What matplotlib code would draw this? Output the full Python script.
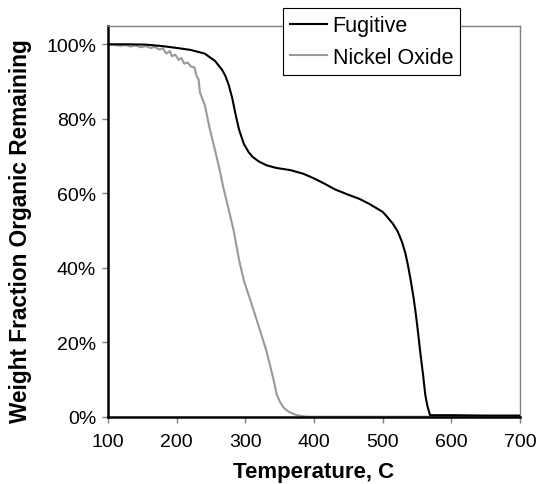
import numpy as np
import matplotlib.pyplot as plt
from matplotlib.ticker import PercentFormatter

plt.rcParams['font.family'] = ['Liberation Sans', 'DejaVu Sans']

# Fugitive (black)
fug_t = [100, 130, 156, 180, 201, 220, 241, 256, 266, 271, 276, 281, 286, 291,
         298, 305, 311, 320, 331, 345, 366, 385, 401, 415, 431, 450, 466, 480,
         491, 500, 506, 515, 522, 528, 533, 537, 541, 545, 548, 551, 555, 559,
         562, 565, 569, 600, 650, 700]
fug_w = [1.0, 1.0, 0.999, 0.995, 0.99, 0.985, 0.975, 0.955, 0.932, 0.915,
         0.89, 0.855, 0.81, 0.77, 0.732, 0.71, 0.697, 0.685, 0.675, 0.668,
         0.662, 0.652, 0.639, 0.626, 0.61, 0.596, 0.585, 0.572, 0.56, 0.55,
         0.538, 0.518, 0.497, 0.47, 0.44, 0.405, 0.365, 0.32, 0.28, 0.235,
         0.17, 0.11, 0.06, 0.03, 0.004, 0.004, 0.003, 0.003]

# Nickel Oxide (grey)
ni_t = [100, 110, 118, 125, 133, 140, 148, 155, 162, 168, 175, 180, 185, 190,
        193, 198, 203, 207, 211, 216, 221, 226, 229, 232, 234, 241, 248, 256,
        263, 268, 276, 283, 291, 298, 311, 326, 331, 336, 341, 346, 351, 356,
        361, 366, 372, 378, 385, 391, 450, 550, 700]
ni_w = [1.0, 0.998, 0.996, 0.998, 0.994, 0.997, 0.992, 0.995, 0.99, 0.993,
        0.986, 0.989, 0.975, 0.982, 0.968, 0.972, 0.958, 0.963, 0.948, 0.951,
        0.94, 0.938, 0.915, 0.905, 0.87, 0.837, 0.775, 0.715, 0.66, 0.615,
        0.555, 0.5, 0.42, 0.365, 0.292, 0.205, 0.175, 0.138, 0.1, 0.058,
        0.038, 0.024, 0.016, 0.011, 0.006, 0.003, 0.001, 0.0, 0.0, 0.0, 0.0]

fig = plt.figure(figsize=(5.38, 4.85), dpi=100)
ax = fig.add_axes([0.2007, 0.1388, 0.7658, 0.8062])

ax.plot(ni_t, ni_w, color='#999999', lw=1.5, label='Nickel Oxide', zorder=2)
ax.plot(fug_t, fug_w, color='black', lw=1.5, label='Fugitive', zorder=3)

ax.set_xlim(100, 700)
ax.set_ylim(0, 1.05)
ax.set_xticks(np.arange(100, 701, 100))
ax.set_yticks(np.arange(0, 1.01, 0.2))
ax.yaxis.set_major_formatter(PercentFormatter(1.0, decimals=0))
ax.tick_params(direction='out', length=4, width=1, labelsize=14,
               color='#808080', labelcolor='black')
ax.tick_params(axis='x', pad=8)
ax.tick_params(axis='y', pad=4.5)

for side in ['left', 'bottom']:
    ax.spines[side].set_linewidth(1.8)
    ax.spines[side].set_color('black')
for side in ['top', 'right']:
    ax.spines[side].set_linewidth(1.0)
    ax.spines[side].set_color('#808080')

ax.set_xlabel('Temperature, C', fontsize=16, fontweight='bold', labelpad=8)
ax.set_ylabel('Weight Fraction Organic Remaining', fontsize=16.3,
              fontweight='bold', labelpad=10)
ax.yaxis.label.set_y(0.476)

handles, labels = ax.get_legend_handles_labels()
leg = ax.legend(handles[::-1], labels[::-1], loc='upper left',
                bbox_to_anchor=(0.5255, 0.9808), bbox_transform=fig.transFigure,
                fontsize=15.5, frameon=True, fancybox=False, framealpha=1,
                edgecolor='black', borderaxespad=0, handlelength=1.75,
                handletextpad=0.25, labelspacing=0.5, borderpad=0.32)
leg.get_frame().set_linewidth(0.8)
leg.set_zorder(5)

fig.savefig('out.png', dpi=100)
